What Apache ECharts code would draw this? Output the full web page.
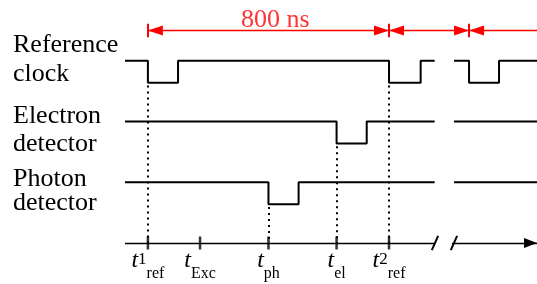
<!DOCTYPE html>
<html><head><meta charset="utf-8">
<script src="https://cdn.jsdelivr.net/npm/echarts@6/dist/echarts.min.js"></script>
<style>html,body{margin:0;padding:0;background:#fff}#c{width:537px;height:284px}</style>
</head><body><div id="c"></div>
<script>
// ---- data (time in ns, signal level in arbitrary units) ----
const rowNames = [['Reference', 'clock'], ['Electron', 'detector'], ['Photon', 'detector']];
const clockWave = [[-76, 8.25], [0, 8.25], [0, 7.25], [100, 7.25], [100, 8.25], [800, 8.25], [800, 7.25], [905, 7.25], [905, 8.25], [951.5, 8.25], [980, '-'], [1015.7, 8.25], [1065.5, 8.25], [1065.5, 7.25], [1165, 7.25], [1165, 8.25], [1291, 8.25]];
const electronWave = [[-76, 5.5], [626, 5.5], [626, 4.5], [726, 4.5], [726, 5.5], [951.5, 5.5], [980, '-'], [1015.7, 5.5], [1291, 5.5]];
const photonWave = [[-76, 2.75], [400, 2.75], [400, 1.75], [500, 1.75], [500, 2.75], [951.5, 2.75], [980, '-'], [1015.7, 2.75], [1291, 2.75]];
const tickTimes = [0, 173, 400, 626, 800];
const tickSup = ['1', '', '', '', '2'];
const tickSub = ['ref', 'Exc', 'ph', 'el', 'ref'];
const markerTimes = [0, 400, 626, 800];
const markerFrom = [7.25, 1.75, 4.5, 7.25];
const periodLabel = '800 ns';
const periodLabelPos = [423, 10.09];
const dimLevel = 9.615;
const dimBars = [0, 800, 1065.5];
const dimSpans = [[0, 800, true, true], [800, 1065.5, true, true], [1065.5, 1291, true, false]];
const axisSegments = [[-76, 953, false], [1009, 1291, true]];
const breakSlashes = [[[942, -0.32], [963, 0.32]], [[1005, -0.32], [1026, 0.32]]];
const xMin = -76, xMax = 1291;

// ---- chart ----
const SERIF = 'Liberation Serif';
const RED = '#ff0000';
function tri(size, on) {
  return on ? { symbol: 'triangle', symbolSize: size, symbolOffset: [0, size[1] / 2] } : { symbol: 'none' };
}
const redLines = [];
dimSpans.forEach(s => {
  redLines.push([
    Object.assign({ coord: [s[0], dimLevel] }, tri([10, 15], s[2])),
    Object.assign({ coord: [s[1], dimLevel] }, tri([10, 15], s[3])),
  ]);
});
dimBars.forEach(t => {
  redLines.push([{ coord: [t, dimLevel + 0.3], symbol: 'none', lineStyle: { width: 2 } }, { coord: [t, dimLevel - 0.3], symbol: 'none' }]);
});
const blackLines = [];
axisSegments.forEach(s => {
  blackLines.push([{ coord: [s[0], 0], symbol: 'none' }, Object.assign({ coord: [s[1], 0] }, tri([10, 13], s[2]))]);
});
const slashData = [];
breakSlashes.forEach((s, i) => { if (i) slashData.push([980, '-']); slashData.push(s[0], s[1]); });
const dotLines = markerTimes.map((t, i) => [{ coord: [t, markerFrom[i] - 0.12], symbol: 'none' }, { coord: [t, 0], symbol: 'none' }]);

const waveStyle = { color: '#000', width: 2 };
const chart = echarts.init(document.getElementById('c'));
chart.setOption({
  animation: false,
  backgroundColor: '#fff',
  grid: { left: 125, right: 0, top: 0, bottom: 41, containLabel: false, outerBoundsMode: 'none' },
  xAxis: {
    type: 'value', min: xMin, max: xMax,
    axisLine: { show: false },
    axisTick: { show: false }, splitLine: { show: false },
    axisLabel: {
      customValues: tickTimes, margin: 18, verticalAlign: 'middle', align: 'center',
      formatter: v => {
        const i = tickTimes.indexOf(v);
        if (i < 0) return '';
        return '{t|t}' + (tickSup[i] ? '{sup|' + tickSup[i] + '}' : '') + '{sub|' + tickSub[i] + '}';
      },
      rich: {
        t: { fontFamily: SERIF, fontStyle: 'italic', fontSize: 24, lineHeight: 42, verticalAlign: 'middle', color: '#000' },
        sup: { fontFamily: SERIF, fontSize: 17, verticalAlign: 'middle', padding: [0, 0, 2, 0], color: '#000' },
        sub: { fontFamily: SERIF, fontSize: 16, lineHeight: 16, verticalAlign: 'bottom', color: '#000' }
      }
    }
  },
  yAxis: { type: 'value', min: 0, max: 10.995, show: false, splitLine: { show: false } },
  series: [
    { type: 'line', data: clockWave, symbol: 'none', lineStyle: waveStyle, clip: false, silent: true,
      markLine: { silent: true, symbol: 'none', label: { show: false }, lineStyle: { color: RED, width: 1.4, type: 'solid' }, data: redLines } },
    { type: 'line', data: electronWave, symbol: 'none', lineStyle: waveStyle, clip: false, silent: true,
      markLine: { silent: true, symbol: 'none', label: { show: false }, lineStyle: { color: '#000', width: 2, type: [2, 4] }, data: dotLines } },
    { type: 'line', data: photonWave, symbol: 'none', lineStyle: waveStyle, clip: false, silent: true,
      markLine: { silent: true, symbol: 'none', label: { show: false }, lineStyle: { color: '#000', width: 1.3, type: 'solid' }, data: blackLines } },
    { type: 'line', data: slashData, symbol: 'none', lineStyle: { color: '#000', width: 2 }, clip: false, silent: true },
    { type: 'scatter', data: tickTimes.map(t => [t, 0]), symbol: 'rect', symbolSize: [2.5, 13], itemStyle: { color: '#000' }, clip: false, silent: true },
    { type: 'scatter', data: [periodLabelPos], symbolSize: 0, clip: false, silent: true,
      label: { show: true, position: 'inside', formatter: periodLabel, color: RED, fontFamily: SERIF, fontSize: 26 } }
  ],
  graphic: rowNames.flatMap((lines, i) => lines.map((s, j) => ({
    type: 'text', x: 13, y: [[45, 74], [116, 144], [179, 203]][i][j],
    style: { text: s, fill: '#000', fontFamily: SERIF, fontSize: 26, verticalAlign: 'middle', align: 'left' }
  })))
});
</script></body></html>
